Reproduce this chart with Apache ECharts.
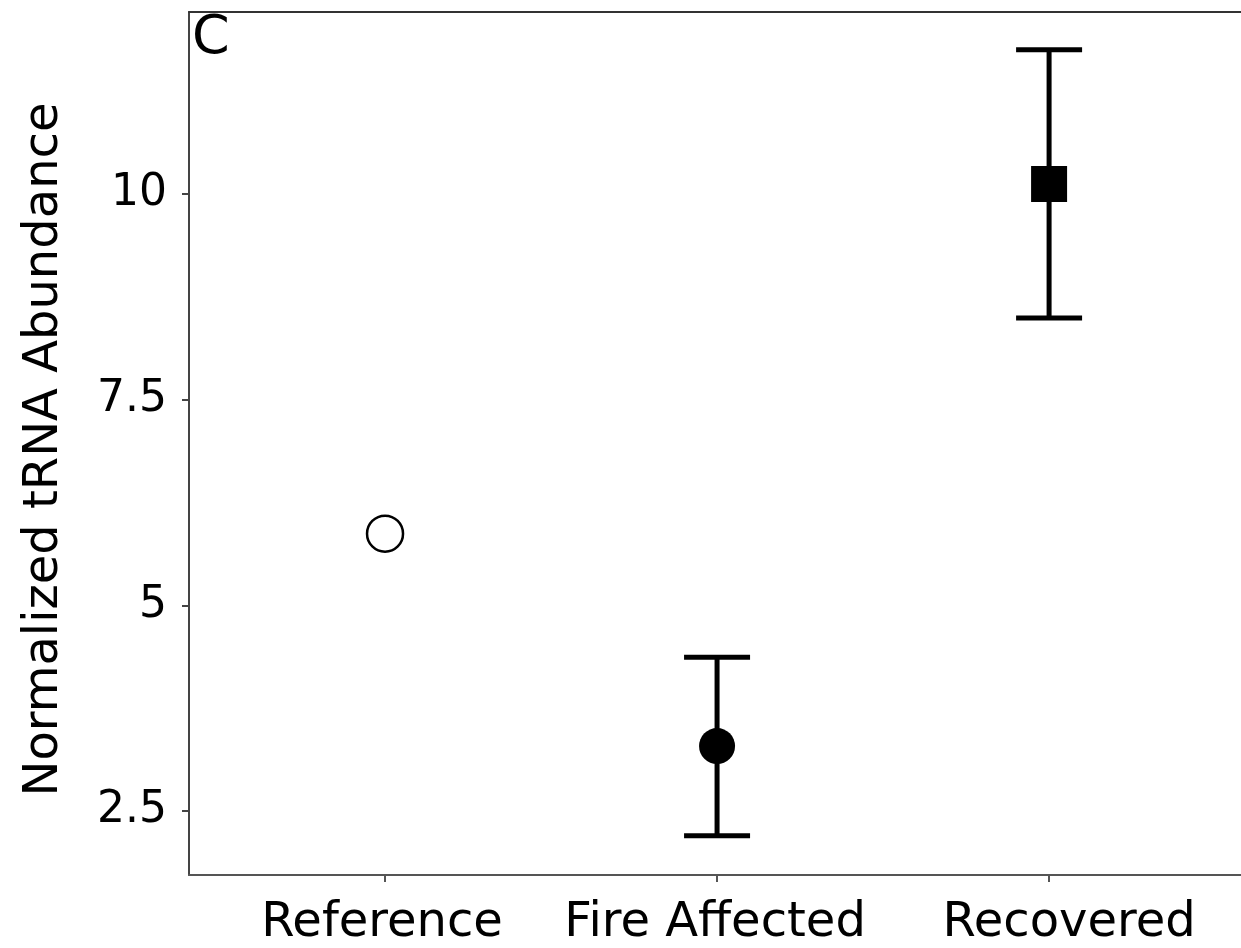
<!DOCTYPE html>
<html>
<head>
<meta charset="utf-8">
<script src="https://cdn.jsdelivr.net/npm/echarts@6/dist/echarts.min.js"></script>
<style>html,body{margin:0;padding:0;background:#fff;}#c{width:1241px;height:948px;}</style>
</head>
<body>
<div id="c"></div>
<script>
const categories = ["Reference", "Fire Affected", "Recovered"];
const means = [5.87, 3.29, 10.12];
const lower = [null, 2.2, 8.49];
const upper = [null, 4.37, 11.75];
const symbols = ["circle", "circle", "rect"];
const fills = ["#fff", "#000", "#000"];
const yTicks = [2.5, 5, 7.5, 10];
const panelLabel = "C";
const yTitle = "Normalized tRNA Abundance";

const FONT = "DejaVu Sans";
const chart = echarts.init(document.getElementById('c'), null, {renderer: 'canvas'});

const errData = categories.map((c, i) => [i, lower[i], upper[i]]).filter(d => d[1] != null);
const pointSeries = categories.map((c, i) => ({
  type: 'scatter',
  name: c,
  data: [[i, means[i]]],
  symbol: symbols[i],
  symbolSize: 36,
  itemStyle: {color: fills[i], borderColor: '#000', borderWidth: fills[i] === '#fff' ? 2.5 : 0, opacity: 1},
  z: 5
}));

chart.setOption({
  animation: false,
  grid: {left: 189, right: 0, top: 12, bottom: 72, containLabel: false},
  xAxis: [{
    type: 'value', min: -0.5904, max: 2.578,
    axisLine: {show: true, onZero: false, lineStyle: {color: '#555', width: 2}},
    axisTick: {show: true, length: 7, lineStyle: {color: '#555', width: 2}, customValues: [0, 1, 2]},
    axisLabel: {show: true, customValues: [0, 1, 2],
      formatter: v => { const i = Math.round(v); return '{l' + i + '|' + (categories[i] || '') + '}'; },
      color: '#000', fontFamily: FONT, fontSize: 48, margin: 25,
      rich: {
        l0: {fontFamily: FONT, fontSize: 48, color: '#000', padding: [0, 6, 0, 0]},
        l1: {fontFamily: FONT, fontSize: 48, color: '#000', padding: [0, 4, 0, 0]},
        l2: {fontFamily: FONT, fontSize: 48, color: '#000', padding: [0, 0, 0, 40]}
      }},
    splitLine: {show: false}
  }, {
    type: 'value', position: 'top', min: -0.5904, max: 2.578,
    axisLine: {show: true, onZero: false, lineStyle: {color: '#333', width: 2}},
    axisTick: {show: false}, axisLabel: {show: false}, splitLine: {show: false}
  }],
  yAxis: {
    type: 'value', min: 1.723, max: 12.209,
    name: yTitle, nameLocation: 'middle', nameRotate: 90, nameGap: 120,
    nameTextStyle: {color: '#000', fontFamily: FONT, fontSize: 48, padding: [0, 12, 0, 0]},
    axisLine: {show: true, onZero: false, lineStyle: {color: '#444', width: 2}},
    axisTick: {show: true, length: 7, lineStyle: {color: '#444', width: 2}, customValues: yTicks},
    axisLabel: {show: true, customValues: yTicks, color: '#000', fontFamily: FONT, fontSize: 44, margin: 22},
    splitLine: {show: false}
  },
  graphic: [{
    type: 'text', left: 192, top: 12,
    style: {text: panelLabel, font: '54px "DejaVu Sans"', fill: '#000'}
  }],
  series: [{
    type: 'custom',
    data: errData,
    z: 3,
    renderItem: function (params, api) {
      const x = api.value(0);
      const lo = api.coord([x, api.value(1)]);
      const hi = api.coord([x, api.value(2)]);
      const half = 33;
      const st = {stroke: '#000', lineWidth: 5};
      return {type: 'group', children: [
        {type: 'line', shape: {x1: lo[0], y1: lo[1], x2: hi[0], y2: hi[1]}, style: st},
        {type: 'line', shape: {x1: lo[0] - half, y1: lo[1], x2: lo[0] + half, y2: lo[1]}, style: st},
        {type: 'line', shape: {x1: hi[0] - half, y1: hi[1], x2: hi[0] + half, y2: hi[1]}, style: st}
      ]};
    }
  }].concat(pointSeries)
});
</script>
</body>
</html>
